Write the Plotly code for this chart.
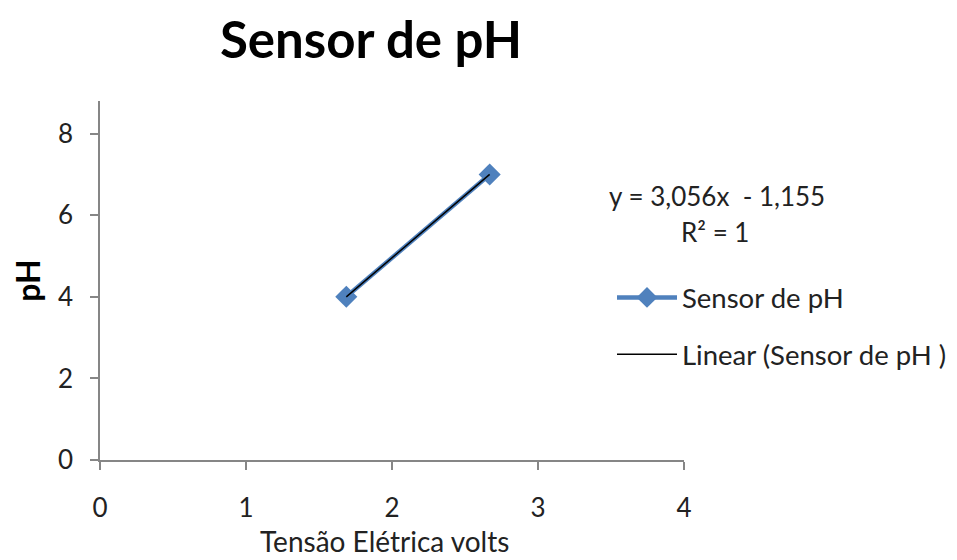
import numpy as np
import plotly.graph_objects as go

# Data
tensao_volts = [1.687, 2.669]
ph_values = [4, 7]
series_name = "Sensor de pH"
trend_name = "Linear (Sensor de pH )"
x_ticks = [0, 1, 2, 3, 4]
y_ticks = [0, 2, 4, 6, 8]
equation_text = "y = 3,056x  - 1,155"
r2_text = "R² = 1"
x_title = "Tensão Elétrica volts"

slope, intercept = np.polyfit(tensao_volts, ph_values, 1)
trend_x = [min(tensao_volts), max(tensao_volts)]
trend_y = [slope * v + intercept for v in trend_x]

FONT = "Lato, 'Open Sans', sans-serif"
BLUE = "#4F81BD"
AXIS = "#868686"
TXT = "#222222"

# page body has an 8px margin; figure sized to fit the window
W, H = 949, 552
OFF = 8
L, T, B = 100 - OFF, 101 - OFF, 100
R = W - (684 - OFF)
PW, PH = W - L - R, H - T - B


def px_x(sx):
    return (sx - OFF - L) / PW


def px_y(sy):
    return (H - B - (sy - OFF)) / PH


fig = go.Figure()
fig.add_trace(go.Scatter(
    x=tensao_volts, y=ph_values, name=series_name, mode="lines+markers",
    legendgroup="a",
    line=dict(color=BLUE, width=4.5),
    marker=dict(symbol="diamond", size=17, color=BLUE),
))
fig.add_trace(go.Scatter(
    x=trend_x, y=trend_y, name=trend_name, mode="lines",
    legendgroup="b",
    line=dict(color="black", width=1.5),
))

fig.update_layout(
    width=W, height=H,
    margin=dict(l=L, r=R, t=T, b=B, autoexpand=False),
    paper_bgcolor="white", plot_bgcolor="white",
    font=dict(family=FONT, size=26, color=TXT),
    title=dict(text="<b>Sensor de pH</b>", x=(371 - OFF) / W, xanchor="center",
               y=1 - (40 - OFF) / H, yanchor="middle",
               font=dict(family=FONT, size=51, color="black")),
    xaxis=dict(range=[0, 4], tickvals=x_ticks, showgrid=False, zeroline=False,
               automargin=False,
               showline=True, linecolor=AXIS, linewidth=1.5,
               ticks="outside", ticklen=8, tickcolor=AXIS, tickwidth=1.5,
               ticklabelstandoff=16, tickfont=dict(size=26, color=TXT)),
    yaxis=dict(range=[0, 8.8], tickvals=y_ticks, showgrid=False, zeroline=False,
               automargin=False,
               showline=True, linecolor=AXIS, linewidth=1.5,
               ticks="outside", ticklen=8, tickcolor=AXIS, tickwidth=1.5,
               ticklabelstandoff=12, tickfont=dict(size=26, color=TXT),
               title=dict(text="<b>pH</b>", standoff=16,
                          font=dict(size=32, family=FONT, color="black"))),
    legend=dict(x=px_x(612), y=px_y(273), xanchor="left", yanchor="top",
                font=dict(size=27.5, family=FONT, color=TXT),
                itemwidth=60, tracegroupgap=18, bgcolor="rgba(0,0,0,0)"),
    showlegend=True,
)

fig.add_annotation(xref="paper", yref="paper", x=px_x(384), y=px_y(541),
                   text=x_title, showarrow=False, xanchor="center", yanchor="middle",
                   borderpad=0,
                   font=dict(size=28, family=FONT, color=TXT))
fig.add_annotation(xref="paper", yref="paper", x=px_x(717), y=px_y(196),
                   text=equation_text, showarrow=False, xanchor="center", yanchor="middle",
                   font=dict(size=26, family=FONT, color=TXT))
fig.add_annotation(xref="paper", yref="paper", x=px_x(715), y=px_y(232),
                   text=r2_text, showarrow=False, xanchor="center", yanchor="middle",
                   font=dict(size=26, family=FONT, color=TXT))

fig.write_html("out.html")
